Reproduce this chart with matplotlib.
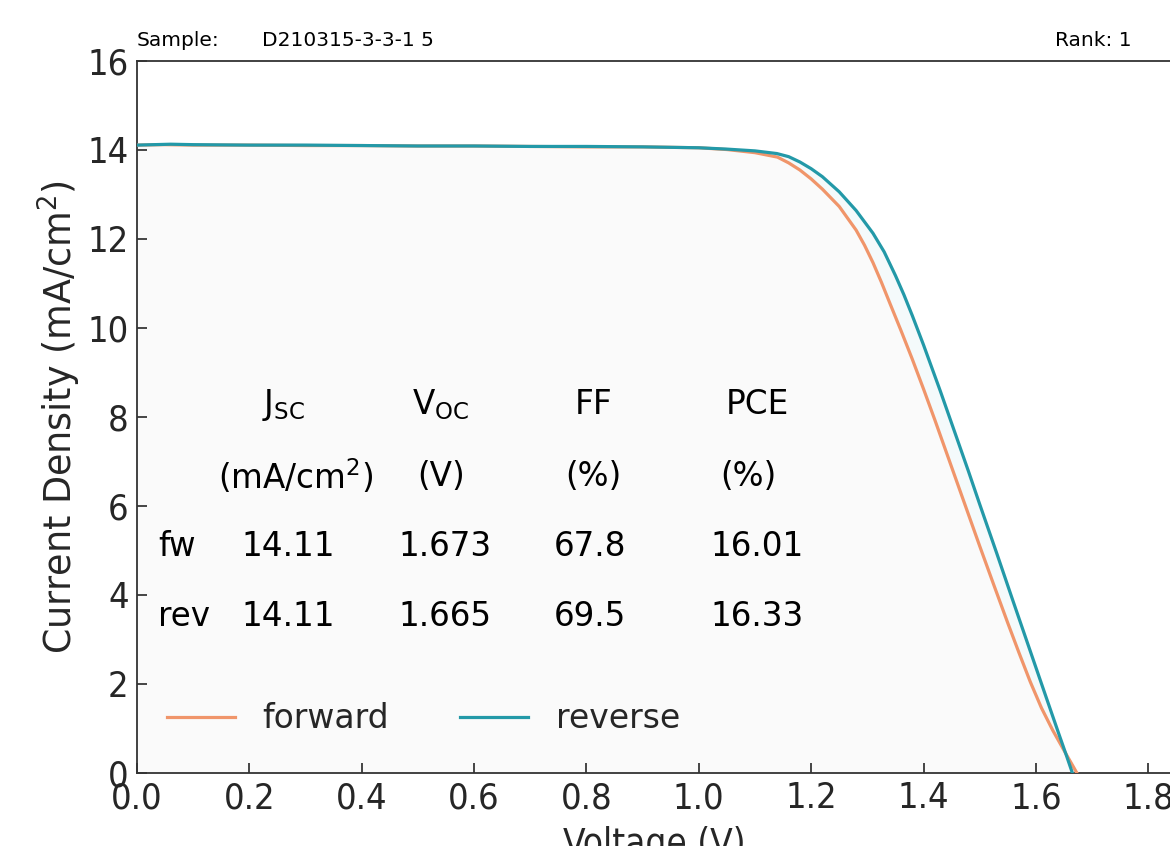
import matplotlib
matplotlib.use("Agg")
import matplotlib.pyplot as plt
from matplotlib import font_manager

# JV sweep, forward scan
v_fw = [0.00, 0.05, 0.10, 0.20, 0.30, 0.40, 0.50, 0.60, 0.70, 0.80, 0.90, 1.00,
        1.05, 1.10, 1.14, 1.16, 1.18, 1.20, 1.22, 1.25, 1.28, 1.295, 1.31, 1.325,
        1.34, 1.36, 1.38, 1.40, 1.42, 1.44, 1.46, 1.48, 1.50, 1.525, 1.55, 1.57,
        1.59, 1.61, 1.63, 1.65, 1.673]
j_fw = [14.11, 14.12, 14.11, 14.11, 14.10, 14.10, 14.09, 14.09, 14.08, 14.07, 14.07,
        14.05, 14.01, 13.94, 13.84, 13.71, 13.55, 13.35, 13.12, 12.73, 12.20, 11.86,
        11.47, 11.03, 10.56, 9.94, 9.30, 8.63, 7.94, 7.23, 6.52, 5.81, 5.10, 4.23,
        3.37, 2.70, 2.05, 1.46, 0.96, 0.51, 0.0]

# JV sweep, reverse scan
v_rev = [0.00, 0.03, 0.06, 0.10, 0.20, 0.30, 0.40, 0.50, 0.60, 0.70, 0.80, 0.90,
         1.00, 1.05, 1.10, 1.139, 1.16, 1.18, 1.20, 1.22, 1.25, 1.28, 1.31, 1.33,
         1.35, 1.365, 1.38, 1.40, 1.43, 1.45, 1.48, 1.50, 1.53, 1.56, 1.59, 1.62,
         1.64, 1.655, 1.665]
j_rev = [14.11, 14.12, 14.13, 14.12, 14.11, 14.11, 14.10, 14.09, 14.09, 14.08, 14.08,
         14.07, 14.05, 14.02, 13.98, 13.92, 13.85, 13.73, 13.58, 13.40, 13.06, 12.64,
         12.13, 11.71, 11.18, 10.75, 10.28, 9.62, 8.58, 7.86, 6.78, 6.04, 4.95, 3.84,
         2.74, 1.64, 0.91, 0.37, 0.0]

# device parameters
row_names = ["fw", "rev"]
jsc = ["14.11", "14.11"]
voc = ["1.673", "1.665"]
ff = ["67.8", "69.5"]
pce = ["16.01", "16.33"]
headers = [r"J$_{\mathregular{SC}}$", r"V$_{\mathregular{OC}}$", "FF", "PCE"]
units = [r"(mA/cm$^{\mathregular{2}}$)", "(V)", "(%)", "(%)"]

sample = "D210315-3-3-1 5"
rank = 1

c_fw = "#f0956a"
c_rev = "#2399a8"
dark = "#262626"

plt.rcParams["mathtext.default"] = "regular"

# narrow face for the axis numbers if the system has it
has_cond = any(f.name == "DejaVu Sans" and f.stretch == "condensed"
               for f in font_manager.fontManager.ttflist)
narrow = dict(family="DejaVu Sans", stretch="condensed") if has_cond else dict(family="DejaVu Sans")
tick_fs = 26 if has_cond else 23
xlab_fs = 26.5 if has_cond else 23.5
tab_fs = 23.5

fig = plt.figure(figsize=(11.7, 8.46), dpi=100)
ax = fig.add_axes([0.1171, 0.0863, 0.8835, 0.8416])

ax.fill_between(v_rev, j_rev, 0, color="#f4fafb", lw=0, zorder=0)
ax.fill_between(v_fw, j_fw, 0, color="#fafafa", lw=0, zorder=1)
ax.plot(v_fw, j_fw, color=c_fw, lw=2.3, label="forward", zorder=3,
        solid_joinstyle="round")
ax.plot(v_rev, j_rev, color=c_rev, lw=2.3, label="reverse", zorder=4,
        solid_joinstyle="round")

ax.set_xlim(0, 1.84)
ax.set_ylim(0, 16)
ax.set_xticks([0.0, 0.2, 0.4, 0.6, 0.8, 1.0, 1.2, 1.4, 1.6, 1.8])
ax.set_yticks([0, 2, 4, 6, 8, 10, 12, 14, 16])
ax.tick_params(direction="in", length=7, width=1.2, pad=6, colors=dark)
for lab in ax.get_xticklabels() + ax.get_yticklabels():
    lab.set_fontproperties(font_manager.FontProperties(size=tick_fs, **narrow))
for s in ax.spines.values():
    s.set_linewidth(1.3)
    s.set_color("#333333")

ax.set_ylabel(r"Current Density (mA/cm$^{\mathregular{2}}$)", fontsize=26.3, color=dark,
              labelpad=3)
ax.set_xlabel("Voltage (V)", fontsize=xlab_fs, color=dark, labelpad=8, **narrow)

# parameter table
head_x = [0.26, 0.541, 0.812, 1.104]
unit_x = [0.283, 0.541, 0.812, 1.088]
val_x = [0.269, 0.548, 0.806, 1.104]
row_y = [5.08, 3.51]
for x, h in zip(head_x, headers):
    ax.text(x, 8.27, h, ha="center", va="center", fontsize=tab_fs, color="black")
for x, u in zip(unit_x, units):
    ax.text(x, 6.67, u, ha="center", va="center", fontsize=tab_fs, color="black")
for i, y in enumerate(row_y):
    ax.text(0.037, y, row_names[i], ha="left", va="center", fontsize=tab_fs, color="black")
    for x, val in zip(val_x, [jsc[i], voc[i], ff[i], pce[i]]):
        ax.text(x, y, val, ha="center", va="center", fontsize=tab_fs, color="black")

leg = ax.legend(loc="lower left", bbox_to_anchor=(0.0, 0.011), ncol=2, frameon=False,
                handlelength=2.05, handletextpad=0.85, columnspacing=2.15,
                fontsize=23.8)
for t in leg.get_texts():
    t.set_color(dark)

fig.text(137 / 1170, 1 - 40 / 846, "Sample:", fontsize=14.5, color="black", va="center")
fig.text(262 / 1170, 1 - 40 / 846, sample, fontsize=14.5, color="black", va="center")
fig.text(1132 / 1170, 1 - 40 / 846, f"Rank: {rank}", fontsize=14.5, color="black",
         va="center", ha="right")

fig.savefig("out.png", dpi=100)
